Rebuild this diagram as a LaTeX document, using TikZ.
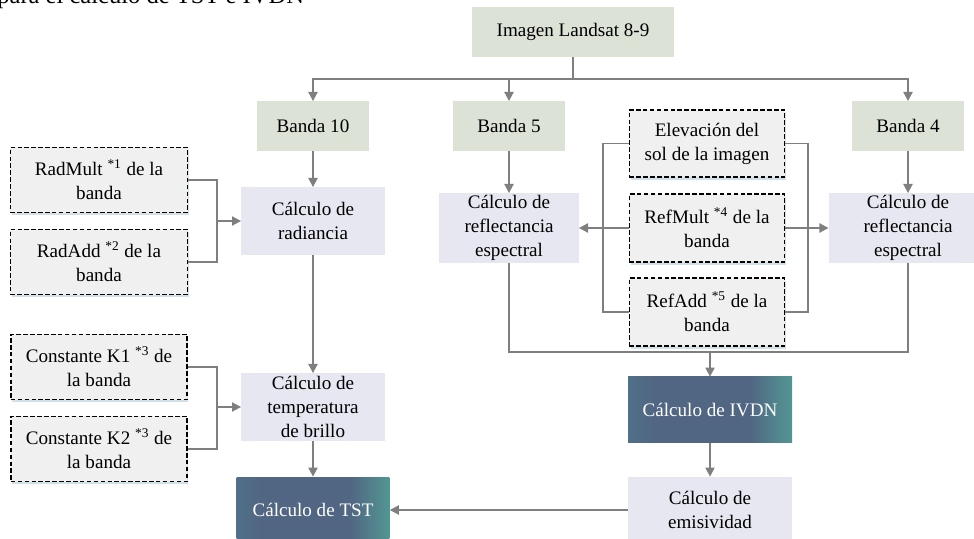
\documentclass[tikz,border=0pt]{standalone}
\usepackage{fontspec}
\setmainfont{Liberation Serif}
\usetikzlibrary{arrows.meta,shadows}
\definecolor{band_green}{RGB}{220, 227, 214}
\definecolor{calc_lilac}{RGB}{231, 231, 241}
\definecolor{par_gray}{RGB}{240, 240, 240}
\definecolor{line_gray}{RGB}{127, 127, 127}
\definecolor{res_slate}{RGB}{81, 102, 130}
\definecolor{res_edge}{RGB}{80, 112, 136}
\definecolor{res_teal}{RGB}{82, 150, 148}
\definecolor{shadow_blue}{RGB}{205, 222, 228}
\pgfdeclarehorizontalshading{res_shade}{100bp}{color(0bp)=(res_edge); color(25bp)=(res_edge);
  color(33bp)=(res_slate); color(62bp)=(res_slate); color(75bp)=(res_teal); color(100bp)=(res_teal)}
\tikzstyle{bn}=[rectangle,fill=band_green,inner sep=0pt,
  minimum width=62pt,minimum height=27pt]
\tikzstyle{cn}=[rectangle,fill=calc_lilac,align=center,inner sep=0pt]
\tikzstyle{pn}=[rectangle,fill=par_gray,draw=black,line width=0.8pt,
  dash pattern=on 2.5pt off 1.3pt,align=center,inner sep=0pt,
  drop shadow={shadow xshift=0.6pt,shadow yshift=-1.4pt,fill=shadow_blue,opacity=0.9}]
\tikzstyle{dn}=[rectangle,shading=res_shade,text=white,inner sep=0pt,
  minimum width=90.2pt,minimum height=36.3pt]
\tikzstyle{ln}=[draw=line_gray,line width=1pt]
\tikzstyle{ar}=[ln,-{Triangle[length=5pt,width=5pt]}]

\begin{document}
\begin{tikzpicture}[x=0.55pt,y=-0.55pt,font=\fontsize{10.5}{13.2}\selectfont]
        \useasboundingbox (0,0) rectangle (974,539);
        \clip (0,0) rectangle (974,539);
        \node[anchor=base west,inner sep=0pt,font=\fontsize{13.5}{16}\selectfont] (cap) at (-3,4) {para el cálculo de TST e IVDN};
        % bands
        \node[bn,minimum width=111pt,minimum height=27.5pt] (img) at (573,32) {Imagen Landsat 8-9};
        \node[bn] (b10) at (313,126) {Banda 10};
        \node[bn] (b5) at (509,126) {Banda 5};
        \node[bn] (b4) at (908,126) {Banda 4};
        % calculations
        \node[cn,minimum width=78.7pt,minimum height=36.9pt] (rad) at (313,221) {Cálculo de\\radiancia};
        \node[cn,minimum width=78.7pt,minimum height=36.9pt] (temp) at (313,407) {Cálculo de\\temperatura\\de brillo};
        \node[cn,minimum width=76.5pt,minimum height=38pt] (refl5) at (509,228) {Cálculo de\\reflectancia\\espectral};
        \node[cn,minimum width=87pt,minimum height=38pt] (refl4) at (908,228) {Cálculo de\\reflectancia\\espectral};
        \node[cn,minimum width=90.2pt,minimum height=36.3pt] (emis) at (710,510) {Cálculo de\\emisividad};
        \node[dn,minimum width=84pt] (tst) at (313,510) {Cálculo de TST};
        \node[dn] (ivdn) at (710,410) {Cálculo de IVDN};
        % parameters
        \node[pn,minimum width=97.4pt,minimum height=35.8pt] (radm) at (99,180) {RadMult \textsuperscript{*1} de la\\banda};
        \node[pn,minimum width=97.4pt,minimum height=35.8pt] (rada) at (99,262) {RadAdd \textsuperscript{*2} de la\\banda};
        \node[pn,minimum width=97pt,minimum height=35.8pt] (k1) at (99,367) {Constante K1 \textsuperscript{*3} de\\la banda};
        \node[pn,minimum width=97pt,minimum height=35.8pt] (k2) at (99,449) {Constante K2 \textsuperscript{*3} de\\la banda};
        \node[pn,minimum width=85.3pt,minimum height=36.9pt] (elev) at (707,143.5) {Elevación del\\sol de la imagen};
        \node[pn,minimum width=85.3pt,minimum height=37.4pt] (rmult) at (707,228) {RefMult \textsuperscript{*4} de la\\banda};
        \node[pn,minimum width=85.3pt,minimum height=37.4pt] (radd) at (707,312) {RefAdd \textsuperscript{*5} de la\\banda};
        \coordinate (split) at (573,79);
        \coordinate (radj) at (217,221);
        \coordinate (kj) at (217,407);
        \coordinate (lj) at (603,228);
        \coordinate (rj) at (808,228);
        \coordinate (jn) at (710,352);
        % connectors
        \draw[ln] (img) -- (split);
        \draw[ar] (split) -| (b10);
        \draw[ar] (split) -| (b5);
        \draw[ar] (split) -| (b4);
        \draw[ar] (b10) -- (rad);
        \draw[ar] (rad) -- (temp);
        \draw[ar] (temp) -- (tst);
        \draw[ar] (b5) -- (refl5);
        \draw[ar] (b4) -- (refl4);
        \draw[ln] (radm.east) -| (radj) |- (rada.east);
        \draw[ar] (radj) -- (rad);
        \draw[ln] (k1.east) -| (kj) |- (k2.east);
        \draw[ar] (kj) -- (temp);
        \draw[ln] (elev.west) -| (lj) |- (radd.west);
        \draw[ar] (rmult) -- (refl5);
        \draw[ln] (elev.east) -| (rj) |- (radd.east);
        \draw[ar] (rmult) -- (refl4);
        \draw[ln] (refl5) |- (jn) -| (refl4);
        \draw[ar] (jn) -- (ivdn);
        \draw[ar] (ivdn) -- (emis);
        \draw[ar] (emis) -- (tst);
    \end{tikzpicture}
\end{document}
